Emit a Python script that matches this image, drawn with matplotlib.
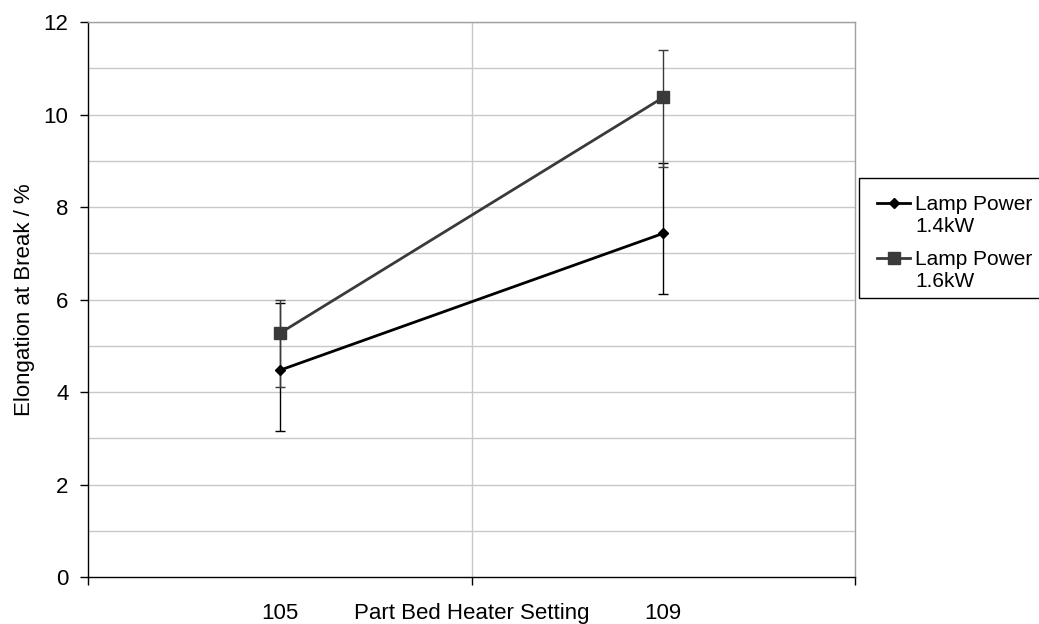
import numpy as np
import matplotlib.pyplot as plt
from matplotlib.patches import Rectangle
from matplotlib.lines import Line2D

plt.rcParams['font.family'] = ['Liberation Sans', 'DejaVu Sans']

# heater settings (categories)
settings = ['105', '109']

# lamp power 1.4kW: mean, lower and upper error bar ends
p14 = [4.47, 7.43]
p14_lo = [3.16, 6.12]
p14_hi = [5.92, 8.96]

# lamp power 1.6kW
p16 = [5.27, 10.37]
p16_lo = [4.11, 8.87]
p16_hi = [5.99, 11.39]

labels = ['Lamp Power\n1.4kW', 'Lamp Power\n1.6kW']
colors = ['black', '#3a3a3a']
markers = ['D', 's']
msizes = [5, 8]

x = np.arange(len(settings))
fs = 16
W, H = 1039, 624

fig = plt.figure(figsize=(W / 100, H / 100), dpi=100)
ax = fig.add_axes([88 / W, 1 - 577 / H, 767 / W, 555 / H])

# gridlines
for v in range(1, 13):
    ax.axhline(v, color='#c8c8c8', lw=1, zorder=0)
ax.axvline(0.5, color='#c8c8c8', lw=1, zorder=0)

# error bars
for vals, lo, hi, c in [(p14, p14_lo, p14_hi, colors[0]), (p16, p16_lo, p16_hi, colors[1])]:
    ax.errorbar(x, vals, yerr=[np.subtract(vals, lo), np.subtract(hi, vals)],
                fmt='none', ecolor=c, elinewidth=1, capsize=3.5, capthick=1, zorder=2)

# lines
for vals, c, m, ms in zip([p14, p16], colors, markers, msizes):
    ax.plot(x, vals, color=c, lw=2, marker=m, markersize=ms, zorder=3)

ax.set_xlim(-0.5, 1.5)
ax.set_ylim(0, 12)
ax.set_yticks(range(0, 13, 2))
ax.set_xticks([-0.5, 0.5, 1.5])
ax.set_xticklabels([])
ax.set_xticks(x, minor=True)
ax.set_xticklabels(settings, minor=True)
ax.tick_params(axis='x', which='minor', length=0, pad=18.7, labelsize=fs)
ax.tick_params(axis='x', which='major', length=6, direction='out', width=1)
ax.tick_params(axis='y', length=6, direction='out', width=1, labelsize=fs, pad=8)

for s in ['top', 'right']:
    ax.spines[s].set_color('#a0a0a0')
    ax.spines[s].set_linewidth(1)
for s in ['left', 'bottom']:
    ax.spines[s].set_color('black')
    ax.spines[s].set_linewidth(1)

ax.set_ylabel('Elongation at Break / %', fontsize=fs)
ax.yaxis.set_label_coords(-0.069, 0.5)
ax.set_xlabel('Part Bed Heater Setting', fontsize=fs)
ax.xaxis.set_label_coords(0.5, -0.0468)

# legend drawn by hand: handle sits beside the first line of each label
fig.add_artist(Rectangle((859 / W, 1 - 298 / H), 190 / W, 120 / H, transform=fig.transFigure,
                         facecolor='white', edgecolor='black', lw=1, clip_on=False))
for i, (lab, c, m, ms) in enumerate(zip(labels, colors, markers, msizes)):
    ytop = 195 + i * 55
    yh = 1 - (ytop + 8) / H
    fig.add_artist(Line2D([877 / W, 893.5 / W, 910 / W], [yh, yh, yh], transform=fig.transFigure,
                          color=c, lw=2, marker=m, markersize=ms, markevery=[1]))
    fig.text(915 / W, 1 - ytop / H, lab, fontsize=15, va='top', ha='left')

fig.savefig('out.png', dpi=100)
